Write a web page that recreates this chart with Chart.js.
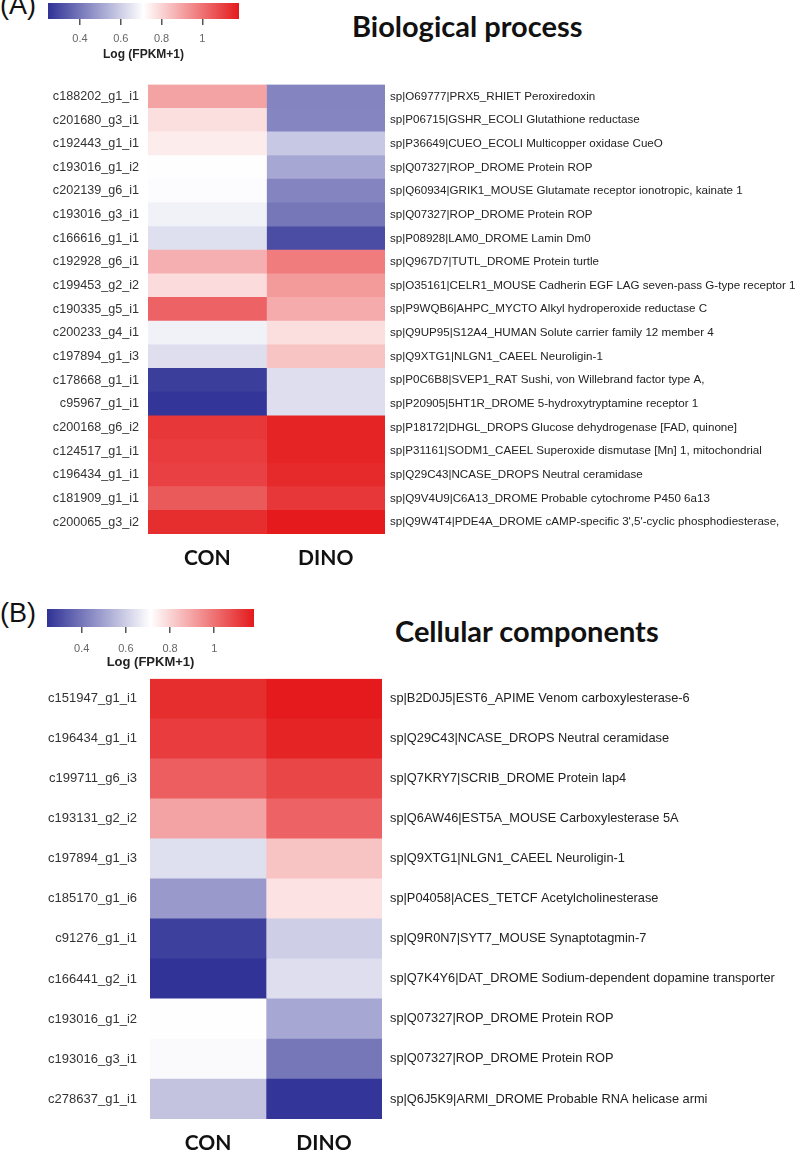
<!DOCTYPE html>
<html>
<head>
<meta charset="utf-8">
<script src="https://cdn.jsdelivr.net/npm/chart.js@4.4.1/dist/chart.umd.min.js"></script>
<style>
  body { margin: 0; background: #fff; }
  #page { position: relative; width: 800px; height: 1157px; overflow: hidden; font-family: "Liberation Sans", Arial, sans-serif; }
  .box { position: absolute; }
  .tag { position: absolute; left: 0; font-size: 27px; color: #111; line-height: 1; }
  .title { position: absolute; font-family: Lato, sans-serif; font-weight: bold; font-size: 29px; color: #111; white-space: nowrap; line-height: 1; }
</style>
</head>
<body>
<div id="page">
  <div class="tag" style="top:-8px">(A)</div>
  <div class="title" style="left:352px; top:11px">Biological process</div>
  <div class="box" style="left:0; top:0; width:260px; height:62px"><canvas id="barA"></canvas></div>
  <div class="box" style="left:0; top:68px; width:800px; height:512px"><canvas id="heatA"></canvas></div>

  <div class="tag" style="top:600px">(B)</div>
  <div class="title" style="left:395px; top:616px">Cellular components</div>
  <div class="box" style="left:0; top:606px; width:270px; height:64px"><canvas id="barB"></canvas></div>
  <div class="box" style="left:0; top:658px; width:800px; height:499px"><canvas id="heatB"></canvas></div>
</div>

<script>
// columns
const groups = ["CON", "DINO"];

// colour scale, Log (FPKM+1)
const scaleMin = 0.243;
const scaleMax = 1.18;
const scaleTicks = [0.4, 0.6, 0.8, 1];

// (A) Biological process
const genesA = [
  "c188202_g1_i1", "c201680_g3_i1", "c192443_g1_i1", "c193016_g1_i2", "c202139_g6_i1",
  "c193016_g3_i1", "c166616_g1_i1", "c192928_g6_i1", "c199453_g2_i2", "c190335_g5_i1",
  "c200233_g4_i1", "c197894_g1_i3", "c178668_g1_i1", "c95967_g1_i1", "c200168_g6_i2",
  "c124517_g1_i1", "c196434_g1_i1", "c181909_g1_i1", "c200065_g3_i2"
];
const proteinsA = [
  "sp|O69777|PRX5_RHIET Peroxiredoxin",
  "sp|P06715|GSHR_ECOLI Glutathione reductase",
  "sp|P36649|CUEO_ECOLI Multicopper oxidase CueO",
  "sp|Q07327|ROP_DROME Protein ROP",
  "sp|Q60934|GRIK1_MOUSE Glutamate receptor ionotropic, kainate 1",
  "sp|Q07327|ROP_DROME Protein ROP",
  "sp|P08928|LAM0_DROME Lamin Dm0",
  "sp|Q967D7|TUTL_DROME Protein turtle",
  "sp|O35161|CELR1_MOUSE Cadherin EGF LAG seven-pass G-type receptor 1",
  "sp|P9WQB6|AHPC_MYCTO Alkyl hydroperoxide reductase C",
  "sp|Q9UP95|S12A4_HUMAN Solute carrier family 12 member 4",
  "sp|Q9XTG1|NLGN1_CAEEL Neuroligin-1",
  "sp|P0C6B8|SVEP1_RAT Sushi, von Willebrand factor type A,",
  "sp|P20905|5HT1R_DROME 5-hydroxytryptamine receptor 1",
  "sp|P18172|DHGL_DROPS Glucose dehydrogenase [FAD, quinone]",
  "sp|P31161|SODM1_CAEEL Superoxide dismutase [Mn] 1, mitochondrial",
  "sp|Q29C43|NCASE_DROPS Neutral ceramidase",
  "sp|Q9V4U9|C6A13_DROME Probable cytochrome P450 6a13",
  "sp|Q9W4T4|PDE4A_DROME cAMP-specific 3',5'-cyclic phosphodiesterase,"
];
const conA  = [0.90, 0.78, 0.75, 0.71, 0.705, 0.68, 0.64, 0.875, 0.786, 1.03, 0.68, 0.636, 0.27, 0.25, 1.12, 1.11, 1.10, 1.05, 1.14];
const dinoA = [0.43, 0.435, 0.585, 0.51, 0.43, 0.40, 0.305, 0.98, 0.917, 0.885, 0.78, 0.835, 0.636, 0.636, 1.16, 1.16, 1.15, 1.12, 1.18];

// (B) Cellular components
const genesB = [
  "c151947_g1_i1", "c196434_g1_i1", "c199711_g6_i3", "c193131_g2_i2", "c197894_g1_i3", "c185170_g1_i6",
  "c91276_g1_i1", "c166441_g2_i1", "c193016_g1_i2", "c193016_g3_i1", "c278637_g1_i1"
];
const proteinsB = [
  "sp|B2D0J5|EST6_APIME Venom carboxylesterase-6",
  "sp|Q29C43|NCASE_DROPS Neutral ceramidase",
  "sp|Q7KRY7|SCRIB_DROME Protein lap4",
  "sp|Q6AW46|EST5A_MOUSE Carboxylesterase 5A",
  "sp|Q9XTG1|NLGN1_CAEEL Neuroligin-1",
  "sp|P04058|ACES_TETCF Acetylcholinesterase",
  "sp|Q9R0N7|SYT7_MOUSE Synaptotagmin-7",
  "sp|Q7K4Y6|DAT_DROME Sodium-dependent dopamine transporter",
  "sp|Q07327|ROP_DROME Protein ROP",
  "sp|Q07327|ROP_DROME Protein ROP",
  "sp|Q6J5K9|ARMI_DROME Probable RNA helicase armi"
];
const conB  = [1.14, 1.11, 1.04, 0.90, 0.64, 0.48, 0.275, 0.245, 0.71, 0.70, 0.575];
const dinoB = [1.18, 1.16, 1.09, 1.03, 0.835, 0.77, 0.60, 0.636, 0.51, 0.40, 0.25];

const lowRGB = [48, 50, 150];
const midRGB = [255, 255, 255];
const highRGB = [228, 26, 28];

function mix(a, b, t) {
  return "rgb(" + a.map((c, i) => Math.round(c + (b[i] - c) * t)).join(",") + ")";
}

function heatColor(v) {
  let t = (v - scaleMin) / (scaleMax - scaleMin);
  t = Math.max(0, Math.min(1, t));
  return t < 0.5 ? mix(lowRGB, midRGB, t * 2) : mix(midRGB, highRGB, (t - 0.5) * 2);
}

function makeHeatmap(id, genes, proteins, con, dino, o) {
  const cols = [con, dino];
  new Chart(document.getElementById(id), {
    type: "bar",
    data: {
      labels: genes,
      datasets: cols.map((vals, i) => ({
        label: groups[i],
        data: vals.map(() => [i, i + 1]),
        backgroundColor: vals.map(heatColor),
        borderWidth: 0,
        borderSkipped: false,
        grouped: false,
        barPercentage: 1,
        categoryPercentage: 1
      }))
    },
    options: {
      indexAxis: "y",
      responsive: true,
      maintainAspectRatio: false,
      animation: false,
      layout: { padding: 0 },
      plugins: { legend: { display: false }, tooltip: { enabled: false } },
      scales: {
        x: {
          type: "linear",
          min: 0,
          max: groups.length,
          grid: { display: false, drawTicks: false },
          border: { display: false },
          afterBuildTicks: s => { s.ticks = groups.map((g, i) => ({ value: i + 0.5 })); },
          ticks: {
            autoSkip: false,
            maxRotation: 0,
            padding: o.colPad,
            color: "#111",
            font: { family: "Lato", weight: "bold", size: 21 },
            callback: v => groups[Math.floor(v)]
          },
          afterFit: s => { s.height = o.bottomH; }
        },
        y: {
          position: "left",
          grid: { display: false, drawTicks: false },
          border: { display: false },
          ticks: {
            autoSkip: false,
            padding: o.leftPad,
            color: "#333",
            font: { family: "Liberation Sans", size: o.leftFont }
          },
          afterFit: s => { s.width = o.left; }
        },
        y2: {
          type: "category",
          labels: proteins,
          position: "right",
          offset: true,
          grid: { display: false, drawTicks: false },
          border: { display: false },
          ticks: {
            autoSkip: false,
            padding: o.rightPad,
            color: "#222",
            font: { family: "Liberation Sans", size: o.rightFont }
          },
          afterFit: s => { s.width = 800 - o.right; }
        }
      }
    }
  });
}

function makeColorbar(id, o) {
  new Chart(document.getElementById(id), {
    type: "bar",
    data: {
      labels: ["Log (FPKM+1)"],
      datasets: [{
        data: [[scaleMin, scaleMax]],
        backgroundColor: c => {
          const a = c.chart.chartArea;
          if (!a) return "#fff";
          const g = c.chart.ctx.createLinearGradient(a.left, 0, a.right, 0);
          g.addColorStop(0, mix(lowRGB, lowRGB, 0));
          g.addColorStop(0.5, mix(midRGB, midRGB, 0));
          g.addColorStop(1, mix(highRGB, highRGB, 0));
          return g;
        },
        borderWidth: 0,
        borderSkipped: false,
        barPercentage: 1,
        categoryPercentage: 1
      }]
    },
    options: {
      indexAxis: "y",
      responsive: true,
      maintainAspectRatio: false,
      animation: false,
      layout: { padding: { top: o.padTop, left: o.left, right: o.right, bottom: 0 } },
      plugins: { legend: { display: false }, tooltip: { enabled: false } },
      scales: {
        x: {
          type: "linear",
          min: scaleMin,
          max: scaleMax,
          afterBuildTicks: s => { s.ticks = scaleTicks.map(v => ({ value: v })); },
          grid: { drawOnChartArea: false, tickLength: 6, tickColor: "#555", lineWidth: 1.5 },
          border: { display: false },
          ticks: {
            padding: o.tickPad,
            color: "#666",
            font: { family: "Liberation Sans", size: 11 },
            callback: v => (v === 1 ? "1" : v.toFixed(1))
          },
          title: {
            display: true,
            text: "Log (FPKM+1)",
            color: "#222",
            padding: 0,
            font: { family: "Liberation Sans", weight: "bold", size: o.titleSize }
          },
          afterFit: s => { s.height = o.axisH; }
        },
        y: { display: false }
      }
    }
  });
}

makeColorbar("barA", { padTop: 3, left: 48, right: 21, tickPad: 7, titleSize: 12, axisH: 43 });
makeColorbar("barB", { padTop: 3, left: 47, right: 16, tickPad: 9, titleSize: 13, axisH: 43 });

makeHeatmap("heatA", genesA, proteinsA, conA, dinoA, {
  bottomH: 46, colPad: 12, left: 148, right: 385,
  leftPad: 9, rightPad: 5, leftFont: 12.6, rightFont: 11.6
});
makeHeatmap("heatB", genesB, proteinsB, conB, dinoB, {
  bottomH: 38, colPad: 12, left: 150, right: 382,
  leftPad: 13, rightPad: 8, leftFont: 13, rightFont: 12.8
});
</script>
</body>
</html>
